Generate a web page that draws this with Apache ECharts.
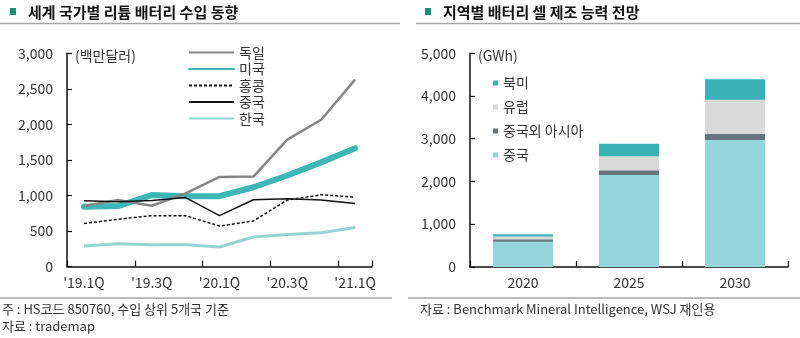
<!DOCTYPE html>
<html>
<head>
<meta charset="utf-8">
<script src="https://cdn.jsdelivr.net/npm/echarts@6/dist/echarts.min.js"></script>
<style>
  html, body { margin: 0; padding: 0; background: #fff; }
  #chart { width: 800px; height: 338px; }
</style>
</head>
<body>
<div id="chart"></div>
<script>
// Quarterly lithium battery imports by country (USD million)
const quarters = ["'19.1Q", "'19.2Q", "'19.3Q", "'19.4Q", "'20.1Q", "'20.2Q", "'20.3Q", "'20.4Q", "'21.1Q"];
const germany  = [850, 935, 855, 1030, 1260, 1265, 1785, 2065, 2630];
const usa      = [840, 850, 1005, 990, 990, 1115, 1280, 1465, 1665];
const hongKong = [605, 665, 715, 715, 570, 640, 935, 1010, 975];
const china    = [925, 910, 930, 970, 715, 940, 955, 935, 885];
const korea    = [290, 320, 305, 305, 275, 415, 450, 475, 550];
const importTicks = [0, 500, 1000, 1500, 2000, 2500, 3000];

// Battery cell manufacturing capacity outlook by region (GWh)
const years        = ['2020', '2025', '2030'];
const capChina     = [590, 2150, 2970];
const capAsiaOther = [60, 110, 140];
const capEurope    = [60, 330, 800];
const capNAmerica  = [55, 290, 480];
const capacityTicks = [0, 1000, 2000, 3000, 4000, 5000];

const FONT = '"Noto Sans CJK KR", "Noto Sans", sans-serif';
const TXT = '#333';
const fmt = v => v.toLocaleString('en-US');

const axisLine = { show: true, lineStyle: { color: '#111', width: 1.5 } };
const axisTick = { show: true, inside: true, length: 5, lineStyle: { color: '#111', width: 1.2 } };

function valueAxis(gridIndex, ticks) {
  return {
    type: 'value', gridIndex,
    min: ticks[0], max: ticks[ticks.length - 1], interval: ticks[1] - ticks[0],
    axisLine, axisTick,
    splitLine: { show: false },
    axisLabel: { margin: 14, fontSize: 14, color: TXT, fontFamily: FONT, formatter: fmt }
  };
}

function lineSeries(name, data, color, width, extra) {
  return Object.assign({
    name, type: 'line', xAxisIndex: 0, yAxisIndex: 0, data,
    showSymbol: false, symbol: 'none', smooth: false,
    lineStyle: { color, width },
    itemStyle: { color }
  }, extra || {});
}

function barSeries(name, data, color) {
  return {
    name, type: 'bar', stack: 'cap', xAxisIndex: 1, yAxisIndex: 1,
    data, barWidth: 60, itemStyle: { color }
  };
}

const chart = echarts.init(document.getElementById('chart'), null, { renderer: 'canvas' });

chart.setOption({
  animation: false,
  textStyle: { fontFamily: FONT },
  grid: [
    { left: 67, top: 53.3, width: 305, height: 213.2 },
    { left: 470, top: 53.3, width: 318, height: 213.6 }
  ],
  xAxis: [
    {
      type: 'category', gridIndex: 0, data: quarters, boundaryGap: true,
      axisLine, axisTick: Object.assign({}, axisTick, { length: 6 }),
      axisLabel: { interval: 1, margin: 9, fontSize: 14, color: TXT, fontFamily: FONT }
    },
    {
      type: 'category', gridIndex: 1, data: years, boundaryGap: true,
      axisLine, axisTick: Object.assign({}, axisTick, { length: 6 }),
      axisLabel: { margin: 9, fontSize: 14, color: TXT, fontFamily: FONT }
    }
  ],
  yAxis: [valueAxis(0, importTicks), valueAxis(1, capacityTicks)],
  legend: [
    {
      orient: 'vertical', left: 188, top: 44.5, padding: 0,
      itemWidth: 45, itemHeight: 16, itemGap: 0.5,
      itemStyle: { opacity: 0 },
      textStyle: { fontSize: 14, color: TXT, fontFamily: FONT, lineHeight: 16 },
      data: ['독일', '미국', '홍콩', '중국', '한국']
    },
    {
      orient: 'vertical', left: 493, top: 75, padding: 0,
      itemWidth: 5, itemHeight: 5, itemGap: 8, icon: 'rect',
      textStyle: { fontSize: 14, color: TXT, fontFamily: FONT, lineHeight: 16, height: 16 },
      data: ['북미', '유럽', '중국외 아시아', '중국 ']
    }
  ],
  series: [
    lineSeries('독일', germany, '#858585', 2.5, { z: 3 }),
    lineSeries('미국', usa, '#3cb6b6', 6, { z: 2, lineStyle: { color: '#3cb6b6', width: 6, cap: 'round', join: 'round' } }),
    lineSeries('홍콩', hongKong, '#111', 1.5, { z: 4, lineStyle: { color: '#111', width: 1.5, type: [3, 2] } }),
    lineSeries('중국', china, '#111', 1.5, { z: 5 }),
    lineSeries('한국', korea, '#95d4d4', 3, { z: 3 }),
    barSeries('중국 ', capChina, '#95d5dc'),
    barSeries('중국외 아시아', capAsiaOther, '#68757f'),
    barSeries('유럽', capEurope, '#d9d9d9'),
    barSeries('북미', capNAmerica, '#38b2b4')
  ],
  graphic: [
    // panel headings
    { type: 'rect', shape: { x: 10, y: 8, width: 6, height: 7 }, style: { fill: '#1d8c7c' } },
    { type: 'text', x: 28, y: 12, style: { text: '세계 국가별 리튬 배터리 수입 동향', font: 'bold 15px ' + FONT, fill: '#111', textVerticalAlign: 'middle' } },
    { type: 'line', shape: { x1: 0, y1: 23.5, x2: 400, y2: 23.5 }, style: { stroke: '#a6a6a6', lineWidth: 1.5 } },
    { type: 'rect', shape: { x: 425, y: 8, width: 6, height: 7 }, style: { fill: '#1d8c7c' } },
    { type: 'text', x: 443, y: 12, style: { text: '지역별 배터리 셀 제조 능력 전망', font: 'bold 15px ' + FONT, fill: '#111', textVerticalAlign: 'middle' } },
    { type: 'line', shape: { x1: 416, y1: 23.5, x2: 800, y2: 23.5 }, style: { stroke: '#a6a6a6', lineWidth: 1.5 } },
    // units
    { type: 'text', x: 75, y: 55.5, style: { text: '(백만달러)', font: '14px ' + FONT, fill: TXT, textVerticalAlign: 'middle' } },
    { type: 'text', x: 478, y: 55.5, style: { text: '(GWh)', font: '14px ' + FONT, fill: TXT, textVerticalAlign: 'middle' } },
    // footer rules and notes
    { type: 'line', shape: { x1: 0, y1: 298, x2: 392, y2: 298 }, style: { stroke: '#a6a6a6', lineWidth: 1.5 } },
    { type: 'line', shape: { x1: 408, y1: 298, x2: 800, y2: 298 }, style: { stroke: '#a6a6a6', lineWidth: 1.5 } },
    { type: 'text', x: 2, y: 309, style: { text: '주 : HS코드 850760, 수입 상위 5개국 기준', font: '13px ' + FONT, fill: TXT, textVerticalAlign: 'middle' } },
    { type: 'text', x: 2, y: 326, style: { text: '자료 : trademap', font: '13px ' + FONT, fill: TXT, textVerticalAlign: 'middle' } },
    { type: 'text', x: 420, y: 309, style: { text: '자료 : Benchmark Mineral Intelligence, WSJ 재인용', font: '13px ' + FONT, fill: TXT, textVerticalAlign: 'middle' } }
  ]
});
</script>
</body>
</html>
